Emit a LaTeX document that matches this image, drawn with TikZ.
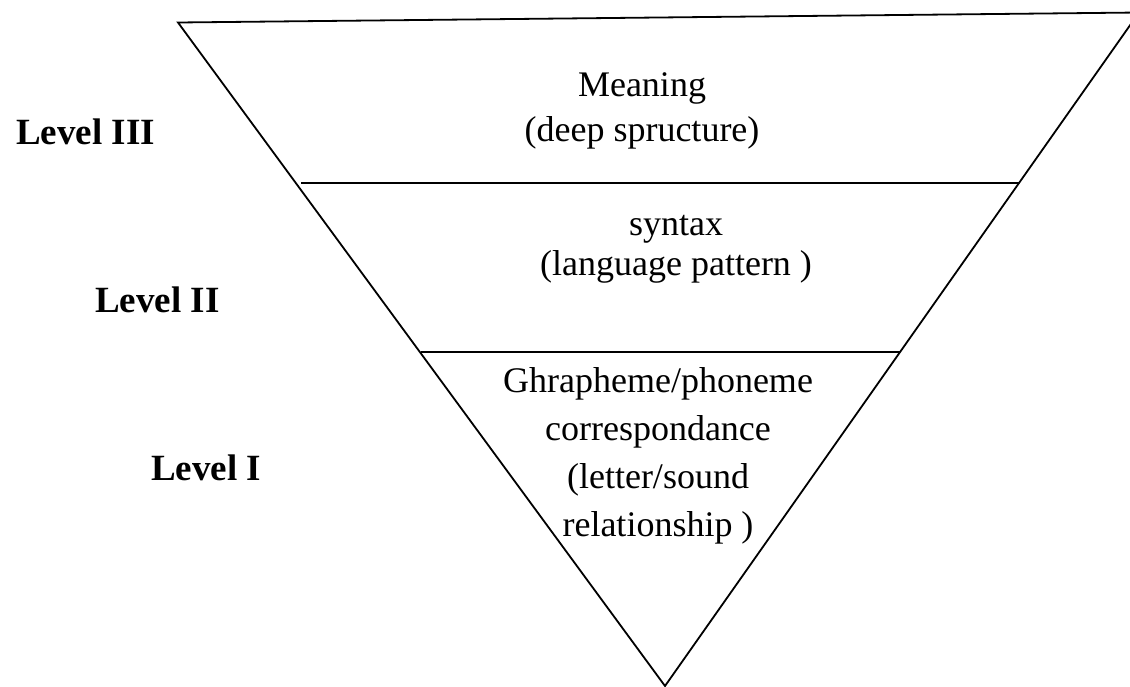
\documentclass[tikz,border=0pt]{standalone}
\usepackage{fontspec}
\setmainfont{Liberation Serif}
\usetikzlibrary{calc}
\usetikzlibrary{positioning}
\tikzstyle{levelnode} = [font=\fontsize{37}{44}\selectfont\bfseries, anchor=base west, inner sep=0]
\tikzstyle{textnode} = [font=\fontsize{36}{45}\selectfont, align=center, inner sep=0]
\tikzstyle{edge} = [line width=1.8pt, line join=miter]

\begin{document}
\begin{tikzpicture}[x=1pt, y=-1pt]
    \useasboundingbox (0,0) rectangle (1130,686);
    \coordinate (top_left) at (178,22.5);
    \coordinate (top_right) at (1139,12.5);
    \coordinate (bottom) at (665,686);
    \draw[edge] (top_left) -- (top_right) -- (bottom) -- cycle;
    % inner cuts
    \coordinate (cut_two_left) at (301,183);
    \coordinate (cut_two_right) at ($(top_right)!0.2531!(bottom)$);
    \coordinate (cut_one_left) at (421,352);
    \coordinate (cut_one_right) at ($(top_right)!0.5041!(bottom)$);
    \draw[edge] (cut_two_left) -- (cut_two_right);
    \draw[edge] (cut_one_left) -- (cut_one_right);
    % level texts
    \node[textnode] (meaning) at (642,111) {Meaning\\(deep spructure)};
    \node[textnode, font=\fontsize{36}{40}\selectfont] (syntax) at (676,249) {syntax\\(language pattern )};
    \node[textnode, font=\fontsize{36}{48}\selectfont] (grapheme) at (658,456) {Ghrapheme/phoneme\\correspondance\\(letter/sound\\relationship )};
    % level labels
    \node[levelnode] (level_three) at (16,144) {Level III};
    \node[levelnode] (level_two) at (95,312) {Level II};
    \node[levelnode] (level_one) at (151,480) {Level I};
\end{tikzpicture}
\end{document}
